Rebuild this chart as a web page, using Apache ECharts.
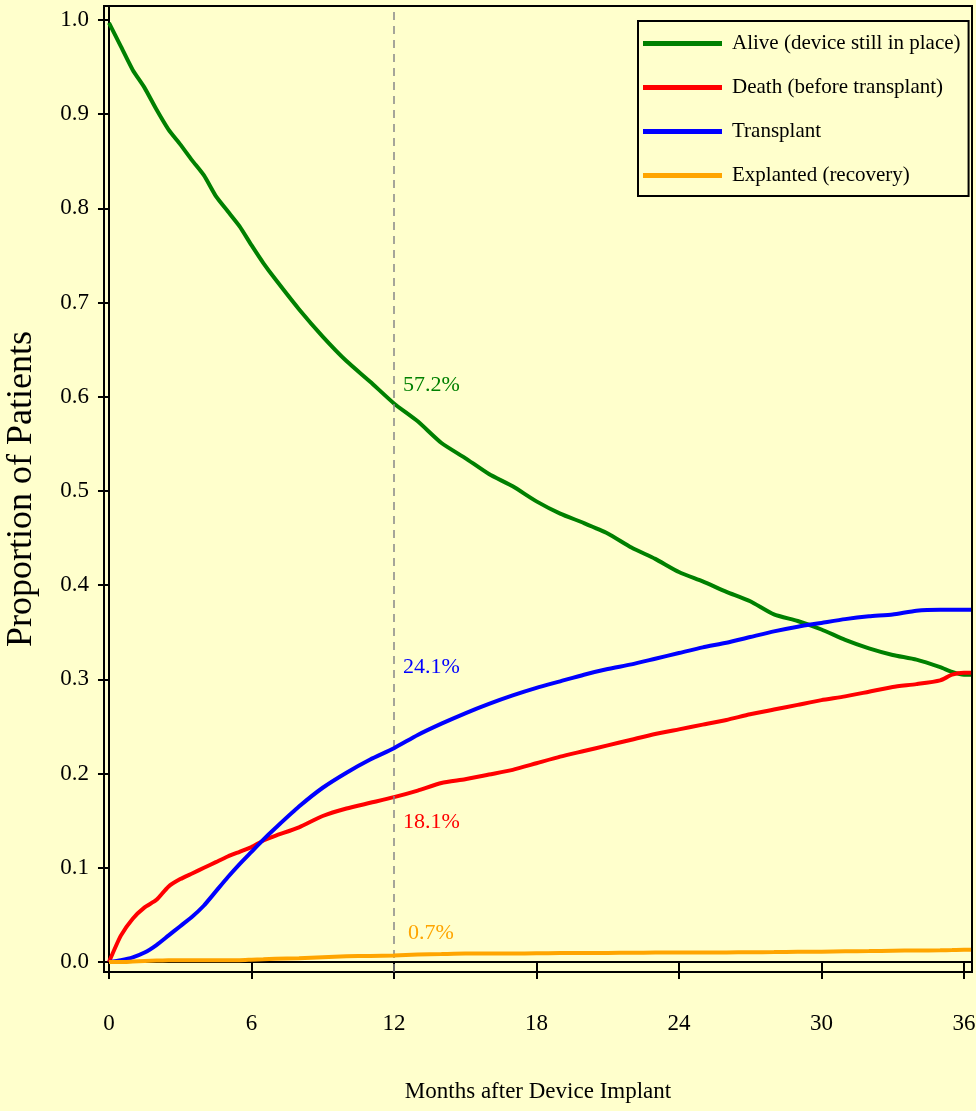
<!DOCTYPE html>
<html>
<head>
<meta charset="utf-8">
<script src="https://cdn.jsdelivr.net/npm/echarts@6/dist/echarts.min.js"></script>
<style>
html,body{margin:0;padding:0;background:#FFFFCC;}
#chart{width:976px;height:1111px;}
</style>
</head>
<body>
<div id="chart"></div>
<script>
// ---- data ----
const months = [0,0.5,1,1.5,2,2.5,3,3.5,4,4.5,5,5.5,6,6.5,7,8,9,10,11,12,13,14,15,16,17,18,19,20,21,22,23,24,25,26,27,28,29,30,31,32,33,34,35,35.5,36,36.3];
const alive = [0.997,0.972,0.947,0.928,0.905,0.884,0.868,0.851,0.835,0.813,0.797,0.781,0.761,0.742,0.725,0.693,0.664,0.638,0.616,0.593,0.574,0.551,0.535,0.518,0.505,0.489,0.476,0.466,0.455,0.440,0.428,0.414,0.404,0.393,0.383,0.369,0.362,0.353,0.342,0.333,0.326,0.321,0.313,0.308,0.305,0.305];
const death = [0,0.028,0.046,0.058,0.066,0.080,0.088,0.094,0.100,0.106,0.112,0.117,0.122,0.129,0.134,0.143,0.155,0.163,0.169,0.175,0.182,0.190,0.194,0.199,0.204,0.211,0.218,0.224,0.230,0.236,0.242,0.247,0.252,0.257,0.263,0.268,0.273,0.278,0.282,0.287,0.292,0.295,0.299,0.305,0.307,0.307];
const transplant = [0,0.002,0.005,0.010,0.018,0.028,0.038,0.048,0.060,0.075,0.090,0.104,0.117,0.130,0.142,0.165,0.185,0.201,0.215,0.227,0.241,0.253,0.264,0.274,0.283,0.291,0.298,0.305,0.311,0.316,0.322,0.328,0.334,0.339,0.345,0.351,0.356,0.360,0.364,0.367,0.369,0.373,0.374,0.374,0.374,0.374];
const explanted = [0,0,0.0005,0.001,0.0015,0.002,0.002,0.002,0.002,0.002,0.002,0.002,0.0025,0.003,0.0035,0.004,0.005,0.006,0.0065,0.007,0.008,0.0085,0.009,0.009,0.009,0.0093,0.0095,0.0095,0.0097,0.0098,0.01,0.01,0.01,0.0102,0.0104,0.0105,0.0108,0.011,0.0113,0.0116,0.012,0.0122,0.0125,0.0127,0.013,0.013];
const seriesNames = ['Alive (device still in place)','Death (before transplant)','Transplant','Explanted (recovery)'];
const seriesColors = ['#008000','#FF0000','#0000FF','#FFA500'];
const annotTexts = ['57.2%','18.1%','24.1%','0.7%'];
const xTicks = [0,6,12,18,24,30,36];
const yTicks = [0,0.1,0.2,0.3,0.4,0.5,0.6,0.7,0.8,0.9,1.0];
const landmarkMonth = 12;

// ---- chart ----
const FONT = '"Liberation Serif", "Times New Roman", serif';
const BG = '#FFFFCC';
const allSeries = [alive, death, transplant, explanted];
// annotation anchors (data units) near the landmark line
const annotCoords = [[12.38,0.6125],[12.38,0.1486],[12.38,0.313],[12.59,0.0308]];

const chart = echarts.init(document.getElementById('chart'), null, {renderer:'canvas'});
const series = allSeries.map((vals, i) => {
  const s = {
    name: seriesNames[i],
    type: 'line',
    data: months.map((m, j) => [m, vals[j]]),
    showSymbol: false,
    symbol: 'none',
    smooth: 0.2,
    lineStyle: {color: seriesColors[i], width: 4},
    itemStyle: {color: seriesColors[i]},
    animation: false,
    z: 3 + i,
    markPoint: {
      symbol: 'circle', symbolSize: 0, silent: true, animation: false,
      data: [{coord: annotCoords[i], value: annotTexts[i]}],
      label: {
        show: true, position: [0,0], align: 'left', verticalAlign: 'middle',
        formatter: annotTexts[i], color: seriesColors[i],
        fontFamily: FONT, fontSize: 22
      }
    }
  };
  if (i === 0) {
    s.markLine = {
      silent: true, symbol: 'none', animation: false,
      label: {show: false},
      lineStyle: {color: '#888888', type: [8,6], width: 1.5},
      data: [{xAxis: landmarkMonth}]
    };
  }
  return s;
});

chart.setOption({
  backgroundColor: BG,
  animation: false,
  textStyle: {fontFamily: FONT},
  grid: {left: 104, right: 4, top: 6, bottom: 139, show: true, borderColor: '#000', borderWidth: 2,
    backgroundColor: BG, containLabel: false, outerBoundsMode: 'none'},
  legend: {
    data: seriesNames,
    orient: 'vertical',
    left: 638, top: 21,
    icon: 'rect', itemWidth: 79, itemHeight: 5, itemGap: 23,
    padding: [12, 8, 10, 5],
    borderColor: '#000', borderWidth: 2,
    backgroundColor: BG,
    textStyle: {fontFamily: FONT, fontSize: 21, color: '#000', padding: [0,0,0,5]}
  },
  xAxis: {
    type: 'value', min: -0.21, max: 36.34,
    name: 'Months after Device Implant', nameLocation: 'middle', nameGap: 108,
    nameTextStyle: {fontFamily: FONT, fontSize: 23, color: '#000'},
    axisLine: {show: true, lineStyle: {color: '#000', width: 2}},
    axisTick: {show: true, customValues: xTicks, length: 17, lineStyle: {color: '#000', width: 2}},
    axisLabel: {customValues: xTicks, fontFamily: FONT, fontSize: 23, color: '#000', margin: 40},
    splitLine: {show: false}
  },
  yAxis: {
    type: 'value', min: -0.0106, max: 1.0149,
    name: 'Proportion of Patients', nameLocation: 'middle', nameGap: 64,
    nameTextStyle: {fontFamily: FONT, fontSize: 36, color: '#000'},
    axisLine: {show: true, lineStyle: {color: '#000', width: 2}},
    axisTick: {show: true, customValues: yTicks, length: 11, lineStyle: {color: '#000', width: 2}},
    axisLabel: {customValues: yTicks, fontFamily: FONT, fontSize: 23, color: '#000', margin: 15,
      formatter: v => v.toFixed(1)},
    splitLine: {show: false}
  },
  series: series
});
</script>
</body>
</html>
